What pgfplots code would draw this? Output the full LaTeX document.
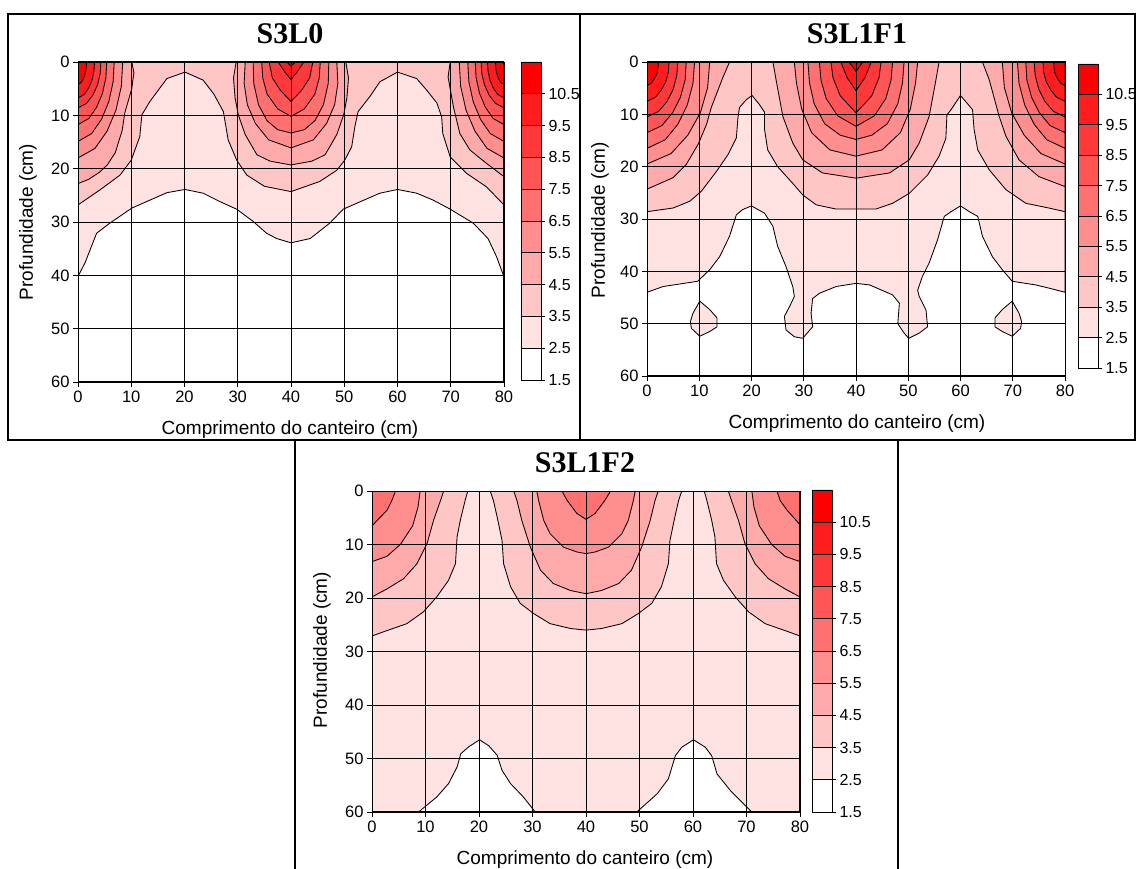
\documentclass[border=0pt]{standalone}
\usepackage{fontspec}
\setmainfont{Liberation Sans}
\newfontfamily\titlefont{Liberation Serif}
\usepackage{pgfplots}
\pgfplotsset{compat=1.18}
\definecolor{c1}{RGB}{255,227,227}
\definecolor{c2}{RGB}{255,198,198}
\definecolor{c3}{RGB}{255,170,170}
\definecolor{c4}{RGB}{255,142,142}
\definecolor{c5}{RGB}{255,113,113}
\definecolor{c6}{RGB}{255,85,85}
\definecolor{c7}{RGB}{255,57,57}
\definecolor{c8}{RGB}{255,28,28}
\definecolor{c9}{RGB}{255,0,0}
\pgfplotsset{
  cf/.style={fill=#1,draw=black,line width=0.85pt,line join=round},
  panel/.style={
    anchor=south west, scale only axis,
    xmin=0,xmax=80,ymin=0,ymax=60, y dir=reverse,
    xtick={0,10,...,80}, ytick={0,10,...,60},
    xtick pos=left, xticklabel pos=left, ytick pos=left,
    tick align=outside, major tick length=5pt,
    grid=major, major grid style={black,line width=0.85pt},
    axis on top, axis line style={black,line width=1pt},
    tick style={black,line width=0.9pt},
    tick label style={font=\fontsize{16.5}{18}\selectfont},
    /pgf/number format/assume math mode=true,
  },
  cbar/.style={
    anchor=south west, scale only axis, width=20pt,
    xmin=0,xmax=1,ymin=1.5,ymax=11.5,
    xtick=\empty, ytick={1.5,2.5,3.5,4.5,5.5,6.5,7.5,8.5,9.5,10.5},
    yticklabels={1.5,2.5,3.5,4.5,5.5,6.5,7.5,8.5,9.5,10.5},
    ytick pos=right, yticklabel pos=right, tick align=outside,
    major tick length=4pt, axis line style={draw=none},
    tick style={black,line width=0.8pt},
    tick label style={font=\fontsize{16}{18}\selectfont},
    clip=false,
  },
}
\newcommand{\colorbarbars}{%
  \addplot[cf=white] coordinates {(0,1.5)(1,1.5)(1,2.5)(0,2.5)(0,1.5)};
  \addplot[cf=c1] coordinates {(0,2.5)(1,2.5)(1,3.5)(0,3.5)(0,2.5)};
  \addplot[cf=c2] coordinates {(0,3.5)(1,3.5)(1,4.5)(0,4.5)(0,3.5)};
  \addplot[cf=c3] coordinates {(0,4.5)(1,4.5)(1,5.5)(0,5.5)(0,4.5)};
  \addplot[cf=c4] coordinates {(0,5.5)(1,5.5)(1,6.5)(0,6.5)(0,5.5)};
  \addplot[cf=c5] coordinates {(0,6.5)(1,6.5)(1,7.5)(0,7.5)(0,6.5)};
  \addplot[cf=c6] coordinates {(0,7.5)(1,7.5)(1,8.5)(0,8.5)(0,7.5)};
  \addplot[cf=c7] coordinates {(0,8.5)(1,8.5)(1,9.5)(0,9.5)(0,8.5)};
  \addplot[cf=c8] coordinates {(0,9.5)(1,9.5)(1,10.5)(0,10.5)(0,9.5)};
  \addplot[cf=c9] coordinates {(0,10.5)(1,10.5)(1,11.5)(0,11.5)(0,10.5)};
}
\begin{document}
\begin{tikzpicture}[x=1pt,y=1pt]
\useasboundingbox (0,0) rectangle (1136,869);
% frames
\draw[line width=2pt] (8,855) rectangle (580,429);
\draw[line width=2pt] (580,855) rectangle (1135,429);
\draw[line width=2pt] (295,429) rectangle (898,-2);

% ================= S3L0 =================
\begin{axis}[panel, at={(78pt,487pt)}, width=426pt, height=320pt]
\addplot[cf=c1] coordinates {(0,0)(0,40.2)(1.3,37.7)(3.5,32.1)(6,30.2)(10.1,27.4)(13.5,25.9)(16.7,24.5)(20.1,23.9)(23.5,24.6)(26.7,26.2)(29.8,27.6)(32.9,29.9)(35.4,32.1)(37.3,33.1)(40,33.9)(43.6,33.1)(47.3,30.2)(49.8,27.6)(53,26.2)(56.7,24.6)(60,23.9)(63.6,24.6)(66.7,25.9)(69.9,27.6)(74.2,30.2)(77,33.1)(78.6,36.5)(80,40.3)(80,0)(0,0)};
\addplot[cf=c2] coordinates {(0,0)(0,26.8)(4.1,24)(7.9,21.2)(10,18.4)(11.6,14)(12,9.9)(13.5,7.4)(16.7,3.1)(20.1,1.9)(23.5,3.4)(25.5,6)(27.3,9.3)(28.2,14.6)(29.8,18.4)(31.7,21.2)(35,23.3)(40,24.3)(45.4,22.4)(48.6,20.3)(50.1,18.4)(51.4,15.9)(52,12.1)(52.6,9.3)(54.8,6.5)(56.7,3.7)(60,1.9)(63.6,3.1)(65.5,5.3)(67.4,7.7)(68.3,10.3)(68.5,13.4)(69.9,17.8)(73,20.9)(76.7,23.4)(80,26.8)(80,0)(0,0)};
% 4.5
\addplot[cf=c3] coordinates {(0,0)(10.1,0)(10.5,2)(10.1,5)(8.8,9.5)(8.3,12.8)(7,17)(5.5,19.3)(4,20.7)(2,22)(0,22.8)(0,0)};
\addplot[cf=c3] coordinates {(80,0)(69.9,0)(69.5,2.8)(70.5,8.4)(71.7,13.4)(73.6,16.5)(76.7,19)(80,21.5)(80,0)};
\addplot[cf=c3] coordinates {(29.7,0)(29.2,3)(29.5,6.75)(30.1,9.9)(31.4,13.6)(33.6,17.4)(36.1,18.6)(40,19.3)(43.9,18.6)(46.4,17.4)(48.6,13.6)(49.9,9.9)(50.5,6.75)(50.8,3)(50.3,0)(29.7,0)};
% 5.5
\addplot[cf=c4] coordinates {(0,0)(8.4,0)(8.15,4.5)(7.14,9)(5.46,12.96)(3.19,16.2)(0,18)(0,0)};
\addplot[cf=c4] coordinates {(80,0)(71.6,0)(71.85,4.5)(72.86,9)(74.54,12.96)(76.81,16.2)(80,18)(80,0)};
\addplot[cf=c4] coordinates {(31.4,0)(31.2,4)(31.8,8)(33.3,11.5)(35.8,14.6)(40,16.1)(44.2,14.6)(46.7,11.5)(48.2,8)(48.8,4)(48.6,0)(31.4,0)};
% 6.5
\addplot[cf=c5] coordinates {(0,0)(6.8,0)(6.6,3.7)(5.78,7.45)(4.42,10.73)(2.58,13.41)(0,14.9)(0,0)};
\addplot[cf=c5] coordinates {(80,0)(73.2,0)(73.4,3.7)(74.22,7.45)(75.58,10.73)(77.42,13.41)(80,14.9)(80,0)};
\addplot[cf=c5] coordinates {(32.9,0)(33,4)(33.9,8)(35.5,11)(37.5,12.7)(40,13.3)(42.5,12.7)(44.5,11)(46.1,8)(47,4)(47.1,0)(32.9,0)};
% 7.5
\addplot[cf=c6] coordinates {(0,0)(5.4,0)(5.24,2.94)(4.59,5.88)(3.51,8.46)(2.05,10.58)(0,11.75)(0,0)};
\addplot[cf=c6] coordinates {(80,0)(74.6,0)(74.76,2.94)(75.41,5.88)(76.49,8.46)(77.95,10.58)(80,11.75)(80,0)};
\addplot[cf=c6] coordinates {(34.5,0)(34.7,3)(35.5,6)(37.5,8.8)(40,10.2)(42.5,8.8)(44.5,6)(45.3,3)(45.5,0)(34.5,0)};
% 8.5
\addplot[cf=c7] coordinates {(0,0)(4.3,0)(4.17,2.15)(3.66,4.3)(2.8,6.19)(1.63,7.74)(0,8.6)(0,0)};
\addplot[cf=c7] coordinates {(80,0)(75.7,0)(75.83,2.15)(76.34,4.3)(77.2,6.19)(78.37,7.74)(80,8.6)(80,0)};
\addplot[cf=c7] coordinates {(35.9,0)(36.5,3)(38,5.3)(40,7.4)(42,5.3)(43.5,3)(44.1,0)(35.9,0)};
% 9.5
\addplot[cf=c8] coordinates {(0,0)(3.1,0)(3,1.69)(2.64,3.38)(2.02,4.86)(1.18,6.08)(0,6.75)(0,0)};
\addplot[cf=c8] coordinates {(80,0)(76.9,0)(77,1.69)(77.36,3.38)(77.98,4.86)(78.82,6.08)(80,6.75)(80,0)};
\addplot[cf=c8] coordinates {(37.6,0)(38.8,1.8)(40,3.3)(41.2,1.8)(42.4,0)(37.6,0)};
% 10.5
\addplot[cf=c9] coordinates {(0,0)(1.6,0)(1.55,1.06)(1.36,2.13)(1.04,3.06)(0.61,3.83)(0,4.25)(0,0)};
\addplot[cf=c9] coordinates {(80,0)(78.4,0)(78.45,1.06)(78.64,2.13)(78.96,3.06)(79.39,3.83)(80,4.25)(80,0)};
\addplot[cf=c9] coordinates {(39.2,0)(40,0.8)(40.8,0)(39.2,0)};
\end{axis}
\begin{axis}[cbar, at={(521pt,489pt)}, height=318pt]
\colorbarbars
\end{axis}

% ================= S3L1F1 =================
\begin{axis}[panel, at={(647pt,493pt)}, width=418pt, height=314pt]
\addplot[cf=c1] coordinates {(0,0)(0,44)(3.1,42.9)(9.7,41.9)(12,39.7)(13.9,37.2)(15.8,33.3)(17.1,29.2)(18.3,28.2)(20,27.5)(22.5,28.9)(24.1,31.4)(25,35.2)(26.6,39.1)(27.9,42.9)(28.2,44.8)(27.3,46.7)(26.3,48.6)(26.6,51.2)(28.2,52.5)(29.8,52.8)(31.7,50.6)(31.4,48)(31.7,45.2)(33,44.2)(36.2,42.9)(40,42.3)(42.6,42.6)(47,44.5)(48.3,46.1)(48,50)(49.2,51.8)(50.1,52.8)(52.1,51.8)(53.7,50.6)(53.4,47.4)(52.1,44.8)(51.8,43.6)(52.7,41)(54,38.4)(55.6,34)(56.9,29.5)(58.2,28.6)(60,27.5)(61.7,28.6)(63.3,29.5)(64.2,33.3)(66.1,37.2)(68,39.7)(69.9,41.9)(74.4,42.6)(76.9,43.2)(80,44)(80,0)(0,0)};
\addplot[cf=c1] coordinates {(10.1,45.7)(12,47.3)(13.4,48.9)(13.4,50.6)(12,51.5)(10.1,52.4)(8.5,50.9)(8.3,49.6)(8.8,48)(10.1,45.7)};
\addplot[cf=c1] coordinates {(69.9,45.7)(68,47.3)(66.6,48.9)(66.6,50.6)(68,51.5)(69.9,52.4)(71.5,50.9)(71.7,49.6)(71.2,48)(69.9,45.7)};
\addplot[cf=c2] coordinates {(0,0)(0,28.6)(5,27.9)(8.2,26.6)(10.4,24.7)(13.3,20.9)(15.5,17.7)(17.1,14.5)(17.4,10.7)(17.7,8.7)(19,7.2)(20.1,6.4)(21.5,8.1)(22.5,9.6)(22.5,12.9)(23.1,16.8)(25,20)(27.9,23.2)(29.8,25.4)(32.4,27.3)(36.2,28.1)(40,28.1)(43.8,28.1)(47,27)(50.2,25.1)(53.7,21.6)(55.9,18)(57.2,14.6)(57.4,10.1)(58.2,9.1)(60,6.4)(62.3,9.1)(62.6,12.9)(63.3,16.8)(65.5,20.6)(68.7,24.4)(72.5,27)(76.9,27.9)(80,28.6)(80,0)(0,0)};
% 4.5
\addplot[cf=c3] coordinates {(0,0)(15.8,0)(14.5,3)(12.3,8.7)(11.4,11.9)(9.8,15.7)(7.5,19.6)(5,22.1)(0,24.3)(0,0)};
\addplot[cf=c3] coordinates {(80,0)(64.2,0)(65.5,3.4)(67.4,10.4)(68.7,14.2)(71.2,18.7)(75,21.9)(80,23.8)(80,0)};
\addplot[cf=c3] coordinates {(24.1,0)(24.7,3.4)(26,10.4)(27.9,15.5)(29.8,18.7)(33.6,21.2)(40,22.2)(46.4,21.2)(50.2,18.7)(52.1,15.5)(54,10.4)(55.3,3.4)(55.9,0)(24.1,0)};
% 5.5
\addplot[cf=c4] coordinates {(0,0)(12,0)(11.6,4.9)(10.2,9.75)(7.8,14)(4.6,17.5)(0,19.5)(0,0)};
\addplot[cf=c4] coordinates {(80,0)(68,0)(68.4,4.9)(69.8,9.75)(72.2,14)(75.4,17.5)(80,19.5)(80,0)};
\addplot[cf=c4] coordinates {(28.2,0)(28.6,4)(29.6,9)(31.5,13.5)(35,16.8)(40,18)(45,16.8)(48.5,13.5)(50.4,9)(51.4,4)(51.8,0)(28.2,0)};
% 6.5
\addplot[cf=c5] coordinates {(0,0)(9.1,0)(8.8,4.1)(7.7,8.25)(5.9,11.9)(3.5,14.85)(0,16.5)(0,0)};
\addplot[cf=c5] coordinates {(80,0)(70.9,0)(71.2,4.1)(72.3,8.25)(74.1,11.9)(76.5,14.85)(80,16.5)(80,0)};
\addplot[cf=c5] coordinates {(30.8,0)(31.1,4)(32,8)(34,11.8)(37,14)(40,14.8)(43,14)(46,11.8)(48,8)(48.9,4)(49.2,0)(30.8,0)};
% 7.5
\addplot[cf=c6] coordinates {(0,0)(7.5,0)(7.3,3.4)(6.4,6.75)(4.9,9.7)(2.85,12.15)(0,13.5)(0,0)};
\addplot[cf=c6] coordinates {(80,0)(72.5,0)(72.7,3.4)(73.6,6.75)(75.1,9.7)(77.15,12.15)(80,13.5)(80,0)};
\addplot[cf=c6] coordinates {(33,0)(33.3,3.5)(34.3,7)(36.5,10.3)(40,12.3)(43.5,10.3)(45.7,7)(46.7,3.5)(47,0)(33,0)};
% 8.5
\addplot[cf=c7] coordinates {(0,0)(5.9,0)(5.7,2.6)(5,5.25)(3.8,7.6)(2.2,9.45)(0,10.5)(0,0)};
\addplot[cf=c7] coordinates {(80,0)(74.1,0)(74.3,2.6)(75,5.25)(76.2,7.6)(77.8,9.45)(80,10.5)(80,0)};
\addplot[cf=c7] coordinates {(35.2,0)(35.6,3)(37,6.5)(40,9.7)(43,6.5)(44.4,3)(44.8,0)(35.2,0)};
% 9.5
\addplot[cf=c8] coordinates {(0,0)(4.2,0)(4.1,1.9)(3.6,3.75)(2.7,5.4)(1.6,6.75)(0,7.5)(0,0)};
\addplot[cf=c8] coordinates {(80,0)(75.8,0)(75.9,1.9)(76.4,3.75)(77.3,5.4)(78.4,6.75)(80,7.5)(80,0)};
\addplot[cf=c8] coordinates {(37.1,0)(38.3,3)(40,5.5)(41.7,3)(42.9,0)(37.1,0)};
% 10.5
\addplot[cf=c9] coordinates {(0,0)(2.2,0)(2.1,1.1)(1.9,2.25)(1.4,3.2)(0.8,4.05)(0,4.5)(0,0)};
\addplot[cf=c9] coordinates {(80,0)(77.8,0)(77.9,1.1)(78.1,2.25)(78.6,3.2)(79.2,4.05)(80,4.5)(80,0)};
\addplot[cf=c9] coordinates {(38.7,0)(40,1.8)(41.3,0)(38.7,0)};
\end{axis}
\begin{axis}[cbar, at={(1078pt,501pt)}, height=304pt]
\colorbarbars
\end{axis}

% ================= S3L1F2 =================
\begin{axis}[panel, at={(372pt,57pt)}, width=428pt, height=321pt]
\addplot[cf=c1] coordinates {(0,0)(0,60)(8.7,60)(12.1,57.2)(14.3,54.7)(15.9,51.6)(16.6,49.1)(18.1,47.8)(20.1,46.5)(21.8,47.6)(23.4,49.4)(24.3,52.2)(25.9,54.7)(28.3,57.2)(30.5,60)(49.5,60)(53.3,56.6)(55.4,53.8)(56.7,49.5)(57.9,47.9)(60.1,46.5)(62.3,47.9)(63.5,49.5)(64.5,52.9)(67,56)(71,60)(80,60)(80,0)(0,0)};
% 3.5
\addplot[cf=c2] coordinates {(0,0)(17.9,0)(17.4,1.8)(16.5,5.5)(15.9,8.6)(15.6,13.6)(14.3,16.7)(12.1,19.8)(9.6,22.6)(6.5,24.8)(2.2,26.3)(0,27.1)(0,0)};
\addplot[cf=c2] coordinates {(22.1,0)(22.7,1.8)(23.4,4.9)(24.3,9.2)(24.6,13.6)(25.9,17.9)(27.7,21)(30.2,22.9)(33.3,24.8)(37.1,25.7)(40,26)(42.9,25.7)(46.7,24.8)(49.8,22.9)(52.3,21)(54.1,17.9)(55.4,13.6)(55.7,9.2)(56.6,4.9)(57.3,1.8)(57.9,0)(22.1,0)};
\addplot[cf=c2] coordinates {(80,0)(62.1,0)(62.6,1.8)(63.5,5.5)(64.1,8.6)(64.4,13.6)(65.7,16.7)(67.9,19.8)(70.4,22.6)(73.5,24.8)(77.8,26.3)(80,27.1)(80,0)};
% 4.5
\addplot[cf=c3] coordinates {(0,0)(13.4,0)(12.8,1.8)(11.5,5.5)(10.3,9.8)(8.4,13.6)(5.9,16.4)(2.8,18.3)(0,19.8)(0,0)};
\addplot[cf=c3] coordinates {(26.5,0)(27.1,1.8)(28,5.5)(29.6,10.5)(31.5,14.8)(33.9,17.3)(37.1,18.6)(40,19.2)(42.9,18.6)(46.1,17.3)(48.5,14.8)(50.4,10.5)(52,5.5)(52.9,1.8)(53.5,0)(26.5,0)};
\addplot[cf=c3] coordinates {(80,0)(66.6,0)(67.2,1.8)(68.5,5.5)(69.7,9.8)(71.6,13.6)(74.1,16.4)(77.2,18.3)(80,19.8)(80,0)};
% 5.5
\addplot[cf=c4] coordinates {(0,0)(9,0)(8.6,3)(7.6,6.5)(5.3,10)(2.8,12.2)(0,13.2)(0,0)};
\addplot[cf=c4] coordinates {(30.8,0)(31.2,2)(32.1,5.5)(33.3,8)(35.8,10.5)(38.3,11.4)(40,11.7)(41.7,11.4)(44.2,10.5)(46.7,8)(47.9,5.5)(48.8,2)(49.2,0)(30.8,0)};
\addplot[cf=c4] coordinates {(80,0)(71,0)(71.4,3)(72.4,6.5)(74.7,10)(77.2,12.2)(80,13.2)(80,0)};
% 6.5
\addplot[cf=c5] coordinates {(0,0)(4.4,0)(3.7,1.8)(2.8,3.6)(0,6.5)(0,0)};
\addplot[cf=c5] coordinates {(35.5,0)(36.5,1.8)(38.3,4.2)(40,5.3)(41.7,4.2)(43.5,1.8)(44.6,0)(35.5,0)};
\addplot[cf=c5] coordinates {(80,0)(75.7,0)(76.3,1.8)(77.6,3.6)(80,6.3)(80,0)};
\end{axis}
\begin{axis}[cbar, at={(812pt,57pt)}, height=322pt]
\colorbarbars
\end{axis}

% titles and labels
\node[font=\titlefont\bfseries\fontsize{30}{32}\selectfont] at (290,835) {S3L0};
\node[font=\titlefont\bfseries\fontsize{30}{32}\selectfont] at (857,835) {S3L1F1};
\node[font=\titlefont\bfseries\fontsize{30}{32}\selectfont] at (585,406) {S3L1F2};
\node[font=\fontsize{19}{21}\selectfont] at (290,439) {Comprimento do canteiro (cm)};
\node[font=\fontsize{19}{21}\selectfont] at (857,445) {Comprimento do canteiro (cm)};
\node[font=\fontsize{19}{21}\selectfont] at (585,9) {Comprimento do canteiro (cm)};
\node[font=\fontsize{19}{21}\selectfont,rotate=90] at (28,647) {Profundidade (cm)};
\node[font=\fontsize{19}{21}\selectfont,rotate=90] at (600,649) {Profundidade (cm)};
\node[font=\fontsize{19}{21}\selectfont,rotate=90] at (322,219) {Profundidade (cm)};
\end{tikzpicture}
\end{document}
